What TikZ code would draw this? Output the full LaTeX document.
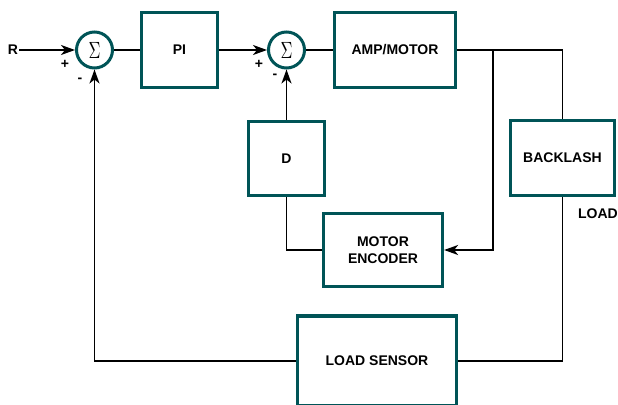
\documentclass[tikz,border=0pt]{standalone}
\usepackage{fontspec}
\usepackage{graphicx}
\setmainfont{Liberation Sans}
\usetikzlibrary{arrows.meta}
\definecolor{teal1}{RGB}{0,84,87}
\newcommand{\sumsym}{\scalebox{1.65}[2.35]{$\Sigma$}}
\begin{document}
\begin{tikzpicture}[x=1pt,y=-1pt,
  blk/.style={draw=teal1,line width=3.2pt,rectangle,inner sep=0pt,font=\fontsize{14}{16.5}\selectfont\bfseries,align=center},
  sumnode/.style={draw=teal1,line width=3pt,circle,minimum size=36pt,inner sep=0pt,font=\fontsize{10}{10}\selectfont},
  lbl/.style={inner sep=1pt,font=\fontsize{14}{16}\selectfont\bfseries},
  conn/.style={draw=black,line width=1.8pt},
  arr/.style={conn,-{Stealth[length=14pt,width=10pt,inset=4pt]}}]
\useasboundingbox (0,0) rectangle (618,404);
\clip (0,0) rectangle (618,404);
\node[lbl] (R) at (13,50) {R};
\node[sumnode] (s1) at (94.5,50) {\sumsym};
\node[blk,minimum width=76pt,minimum height=75pt] (pi) at (179.5,50) {PI};
\node[sumnode] (s2) at (286.5,50) {\sumsym};
\node[blk,minimum width=121pt,minimum height=75pt] (amp) at (395,50) {AMP/MOTOR};
\node[blk,minimum width=104pt,minimum height=75pt] (bl) at (562.5,158) {BACKLASH};
\node[blk,minimum width=76pt,minimum height=74pt] (d) at (286.5,158.5) {D};
\node[blk,minimum width=119pt,minimum height=73pt] (enc) at (383,250) {MOTOR\\ENCODER};
\node[blk,minimum width=159pt,minimum height=90pt] (sens) at (377,361) {LOAD SENSOR};
\node[lbl] (plus1) at (65,64) {+};
\node[lbl] (minus1) at (80,80) {-};
\node[lbl] (plus2) at (259,64) {+};
\node[lbl] (minus2) at (275,76) {-};
\node[lbl] (load) at (598,214) {LOAD};
\coordinate (br) at (493,50);
\draw[arr] (R) -- (s1);
\draw[conn] (s1) -- (pi);
\draw[arr] (pi) -- (s2);
\draw[conn] (s2) -- (amp);
\draw[conn] (amp.east) -- (bl.north |- amp.east) -- (bl.north);
\draw[arr] (br) |- (enc.east);
\draw[arr] (d) -- (s2);
\draw[conn] (enc.west) -| (d.south);
\draw[conn] (bl.south) |- (sens.east);
\draw[arr] (sens.west) -| (s1.south);
\end{tikzpicture}
\end{document}
